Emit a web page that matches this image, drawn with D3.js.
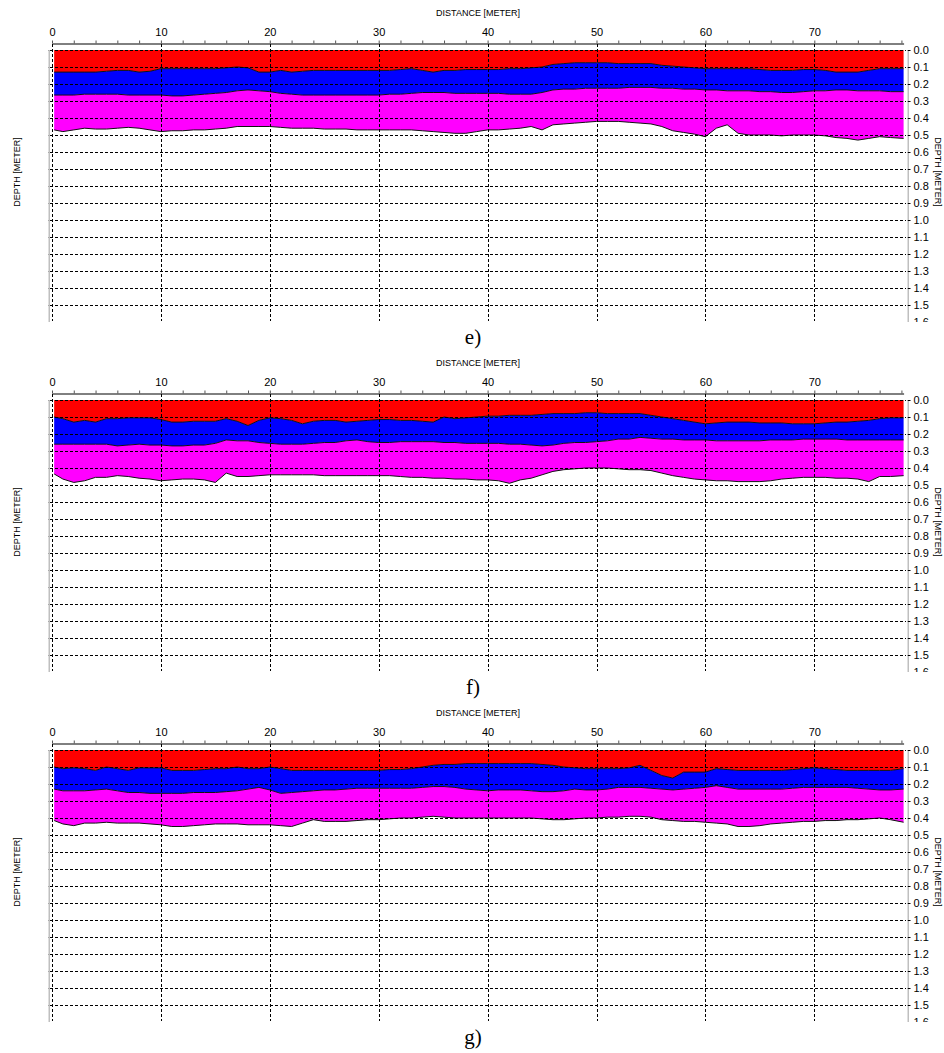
<!DOCTYPE html>
<html>
<head>
<meta charset="utf-8">
<script src="https://cdn.jsdelivr.net/npm/d3@7"></script>
<style>
  body { margin: 0; background: #fff; }
  svg { display: block; }
  .tick text { font-family: "Liberation Sans", Arial, sans-serif; }
</style>
</head>
<body>
<div id="chart"></div>
<script>
// sample positions along the profile (metres)
const distance = [0.2,1,2,3,4,5,6,7,8,9,10,11,12,13,14,15,16,17,18,19,20,21,22,23,24,25,26,27,28,29,
  30,31,32,33,34,35,36,37,38,39,40,41,42,43,44,45,46,47,48,49,50,51,52,53,54,55,56,57,58,59,
  60,61,62,63,64,65,66,67,68,69,70,71,72,73,74,75,76,77,78.2];

const distanceTicks = [0, 10, 20, 30, 40, 50, 60, 70];
const depthTicks = [0.0,0.1,0.2,0.3,0.4,0.5,0.6,0.7,0.8,0.9,1.0,1.1,1.2,1.3,1.4,1.5,1.6];
const panelLabels = ["e)", "f)", "g)"];

// panel e) layer interfaces (depth, m)
const e_layer1 = [0.13,0.13,0.13,0.13,0.13,0.125,0.12,0.12,0.13,0.125,0.11,0.11,0.11,0.11,0.11,0.11,0.105,0.10,0.105,0.13,
  0.13,0.12,0.13,0.125,0.12,0.12,0.12,0.12,0.12,0.12,0.12,0.12,0.115,0.11,0.12,0.13,0.12,0.12,0.115,0.115,
  0.115,0.115,0.11,0.11,0.105,0.10,0.085,0.08,0.075,0.075,0.075,0.075,0.08,0.08,0.08,0.08,0.09,0.095,0.10,0.105,
  0.11,0.11,0.11,0.11,0.11,0.115,0.12,0.12,0.12,0.115,0.115,0.12,0.13,0.13,0.13,0.12,0.11,0.11,0.11];
const e_layer2 = [0.265,0.265,0.265,0.26,0.26,0.26,0.26,0.265,0.265,0.265,0.265,0.27,0.27,0.265,0.26,0.255,0.25,0.24,0.235,0.24,
  0.245,0.255,0.26,0.265,0.265,0.265,0.265,0.265,0.265,0.265,0.265,0.26,0.26,0.255,0.25,0.25,0.25,0.255,0.255,0.255,
  0.255,0.255,0.26,0.26,0.26,0.25,0.235,0.23,0.23,0.225,0.225,0.225,0.225,0.22,0.22,0.22,0.225,0.225,0.23,0.23,
  0.235,0.235,0.24,0.24,0.24,0.245,0.245,0.25,0.25,0.245,0.24,0.24,0.235,0.235,0.24,0.24,0.24,0.245,0.245];
const e_layer3 = [0.47,0.48,0.47,0.46,0.465,0.465,0.46,0.455,0.46,0.47,0.48,0.475,0.475,0.47,0.47,0.465,0.46,0.45,0.45,0.45,
  0.45,0.455,0.46,0.46,0.46,0.465,0.465,0.465,0.47,0.47,0.47,0.47,0.47,0.47,0.475,0.48,0.485,0.49,0.49,0.48,
  0.47,0.47,0.465,0.46,0.45,0.47,0.44,0.435,0.43,0.425,0.42,0.42,0.42,0.425,0.43,0.435,0.45,0.475,0.485,0.495,
  0.51,0.46,0.44,0.49,0.50,0.50,0.50,0.505,0.50,0.50,0.50,0.505,0.515,0.52,0.53,0.52,0.51,0.515,0.52];

// panel f)
const f_layer1 = [0.10,0.11,0.13,0.12,0.13,0.11,0.11,0.105,0.105,0.105,0.115,0.13,0.13,0.125,0.125,0.125,0.11,0.125,0.15,0.12,
  0.105,0.11,0.12,0.14,0.125,0.12,0.12,0.13,0.125,0.12,0.115,0.115,0.12,0.12,0.125,0.13,0.10,0.11,0.105,0.10,
  0.095,0.095,0.09,0.09,0.09,0.085,0.08,0.08,0.08,0.075,0.075,0.08,0.08,0.08,0.08,0.09,0.10,0.11,0.12,0.13,
  0.14,0.135,0.13,0.13,0.13,0.135,0.135,0.135,0.14,0.14,0.14,0.135,0.13,0.13,0.125,0.12,0.11,0.105,0.105];
const f_layer2 = [0.26,0.26,0.26,0.26,0.26,0.26,0.27,0.265,0.26,0.265,0.265,0.27,0.27,0.265,0.265,0.255,0.235,0.24,0.24,0.25,
  0.255,0.26,0.26,0.26,0.255,0.25,0.25,0.24,0.235,0.245,0.25,0.25,0.245,0.245,0.245,0.245,0.25,0.25,0.255,0.255,
  0.255,0.255,0.26,0.26,0.265,0.27,0.265,0.255,0.25,0.25,0.245,0.24,0.23,0.23,0.22,0.225,0.23,0.23,0.235,0.235,
  0.235,0.24,0.24,0.24,0.24,0.24,0.235,0.235,0.235,0.23,0.23,0.23,0.23,0.235,0.235,0.235,0.235,0.235,0.235];
const f_layer3 = [0.435,0.465,0.485,0.475,0.455,0.455,0.445,0.45,0.46,0.465,0.475,0.47,0.465,0.465,0.47,0.485,0.43,0.45,0.45,0.445,
  0.44,0.44,0.44,0.44,0.44,0.445,0.445,0.445,0.445,0.445,0.445,0.445,0.45,0.455,0.455,0.46,0.46,0.465,0.465,0.47,
  0.47,0.475,0.49,0.47,0.46,0.44,0.42,0.41,0.405,0.40,0.40,0.40,0.405,0.41,0.41,0.415,0.43,0.445,0.455,0.465,
  0.47,0.475,0.475,0.48,0.48,0.48,0.475,0.465,0.46,0.455,0.455,0.455,0.46,0.46,0.465,0.48,0.45,0.45,0.445];

// panel g)
const g_layer1 = [0.10,0.11,0.105,0.11,0.12,0.10,0.11,0.12,0.105,0.105,0.105,0.12,0.12,0.12,0.115,0.11,0.11,0.10,0.11,0.11,
  0.10,0.11,0.12,0.12,0.12,0.12,0.12,0.12,0.12,0.12,0.12,0.115,0.115,0.11,0.10,0.09,0.085,0.085,0.08,0.08,
  0.08,0.08,0.08,0.08,0.08,0.085,0.09,0.10,0.105,0.11,0.11,0.11,0.11,0.105,0.09,0.12,0.15,0.165,0.13,0.13,
  0.13,0.11,0.115,0.12,0.12,0.12,0.12,0.12,0.115,0.11,0.105,0.11,0.115,0.12,0.12,0.12,0.12,0.12,0.11];
const g_layer2 = [0.23,0.24,0.24,0.24,0.235,0.23,0.24,0.25,0.25,0.255,0.255,0.255,0.255,0.25,0.25,0.25,0.245,0.24,0.23,0.22,
  0.235,0.255,0.25,0.245,0.24,0.235,0.235,0.23,0.225,0.225,0.225,0.225,0.225,0.225,0.22,0.215,0.215,0.22,0.23,0.235,
  0.24,0.235,0.235,0.235,0.24,0.245,0.245,0.24,0.23,0.235,0.235,0.23,0.22,0.22,0.22,0.225,0.23,0.235,0.23,0.225,
  0.22,0.21,0.22,0.23,0.23,0.23,0.23,0.23,0.225,0.22,0.22,0.22,0.22,0.22,0.225,0.23,0.235,0.235,0.23];
const g_layer3 = [0.415,0.435,0.445,0.43,0.43,0.425,0.43,0.43,0.43,0.435,0.44,0.45,0.45,0.445,0.44,0.435,0.435,0.435,0.44,0.44,
  0.44,0.445,0.45,0.43,0.41,0.42,0.42,0.42,0.415,0.41,0.41,0.405,0.40,0.40,0.395,0.39,0.395,0.40,0.40,0.40,
  0.40,0.40,0.40,0.40,0.40,0.405,0.41,0.41,0.405,0.40,0.40,0.395,0.395,0.39,0.39,0.395,0.41,0.415,0.42,0.42,
  0.425,0.43,0.435,0.45,0.45,0.445,0.435,0.43,0.425,0.42,0.42,0.415,0.415,0.41,0.41,0.405,0.40,0.41,0.425];

const panels = [
  { label: panelLabels[0], layers: [e_layer1, e_layer2, e_layer3] },
  { label: panelLabels[1], layers: [f_layer1, f_layer2, f_layer3] },
  { label: panelLabels[2], layers: [g_layer1, g_layer2, g_layer3] }
];

const W = 944, H = 1053;
const panelStep = 350;
const fills = ["#ff0000", "#0000ff", "#ff00ff"];
const titleFont = '"Liberation Sans Narrow", "Liberation Sans", Arial, sans-serif';

const svg = d3.select("#chart").append("svg")
  .attr("width", W).attr("height", H);

const x = d3.scaleLinear().domain([0, 78.2]).range([52, 903.6]);
const y = d3.scaleLinear().domain([0, 1.6]).range([50, 322]);
const plotBottom = 321;

panels.forEach((p, i) => {
  const g = svg.append("g").attr("transform", `translate(0,${i * panelStep})`);

  const clipId = "clip" + i;
  g.append("clipPath").attr("id", clipId)
    .append("rect").attr("x", 0).attr("y", 0).attr("width", W).attr("height", plotBottom + 1);

  const rows = distance.map((d, k) => ({ d, a: p.layers[0][k], b: p.layers[1][k], c: p.layers[2][k] }));

  // layers
  const bands = [
    [r => 0, r => r.a],
    [r => r.a, r => r.b],
    [r => r.b, r => r.c]
  ];
  bands.forEach((b, k) => {
    g.append("path").datum(rows)
      .attr("fill", fills[k])
      .attr("d", d3.area().x(r => x(r.d)).y0(r => y(b[0](r))).y1(r => y(b[1](r))));
  });
  ["a", "b", "c"].forEach(key => {
    g.append("path").datum(rows)
      .attr("fill", "none").attr("stroke", "#111").attr("stroke-width", 1)
      .attr("d", d3.line().x(r => x(r.d)).y(r => y(r[key])));
  });

  // grid
  g.append("g").selectAll("line").data(depthTicks.slice(0, 16)).join("line")
    .attr("x1", 50).attr("x2", 906)
    .attr("y1", d => Math.round(y(d)) + 0.5).attr("y2", d => Math.round(y(d)) + 0.5)
    .attr("stroke", "#000").attr("stroke-dasharray", "3,2");
  g.append("g").selectAll("line").data(distanceTicks).join("line")
    .attr("y1", 44).attr("y2", plotBottom)
    .attr("x1", d => Math.round(x(d)) + 0.5).attr("x2", d => Math.round(x(d)) + 0.5)
    .attr("stroke", "#000").attr("stroke-dasharray", "3,2");

  // top distance axis
  const top = g.append("g").attr("transform", "translate(0,43.5)")
    .call(d3.axisTop(x).tickValues(d3.range(0, 79, 2)).tickSize(3).tickSizeOuter(0)
      .tickFormat(d => distanceTicks.includes(d) ? d : ""));
  top.select(".domain").attr("stroke", "#000");
  top.selectAll(".tick line").attr("stroke", "#555");
  top.selectAll("text").attr("font-size", 11).attr("fill", "#000").attr("dy", "-2");

  // left and right depth axes
  const left = g.append("g").attr("transform", "translate(48.5,0)").attr("clip-path", `url(#${clipId})`)
    .call(d3.axisLeft(y).tickValues(depthTicks).tickSize(3).tickSizeOuter(0).tickFormat(d3.format(".1f")));
  const right = g.append("g").attr("transform", "translate(907.5,0)").attr("clip-path", `url(#${clipId})`)
    .call(d3.axisRight(y).tickValues(depthTicks).tickSize(3).tickSizeOuter(0).tickFormat(d3.format(".1f")));
  [left, right].forEach(ax => {
    ax.select(".domain").attr("stroke", "#000").attr("stroke-dasharray", "1,1");
    ax.selectAll("text").attr("font-size", 11).attr("fill", "#000");
  });

  // axis titles
  g.append("text").attr("x", 478).attr("y", 16)
    .attr("text-anchor", "middle").attr("font-family", titleFont).attr("font-size", 9)
    .attr("fill", "#000").text("DISTANCE [METER]");
  g.append("text").attr("transform", "translate(20,172) rotate(-90)")
    .attr("text-anchor", "middle").attr("font-family", titleFont).attr("font-size", 9)
    .attr("fill", "#000").text("DEPTH [METER]");
  g.append("text").attr("transform", "translate(935,172) rotate(90)")
    .attr("text-anchor", "middle").attr("font-family", titleFont).attr("font-size", 9)
    .attr("fill", "#000").text("DEPTH [METER]");

  // panel caption
  g.append("text").attr("x", 473).attr("y", 344)
    .attr("text-anchor", "middle").attr("font-family", '"Liberation Serif", "Times New Roman", serif')
    .attr("font-size", 21).text(p.label);
});
</script>
</body>
</html>
